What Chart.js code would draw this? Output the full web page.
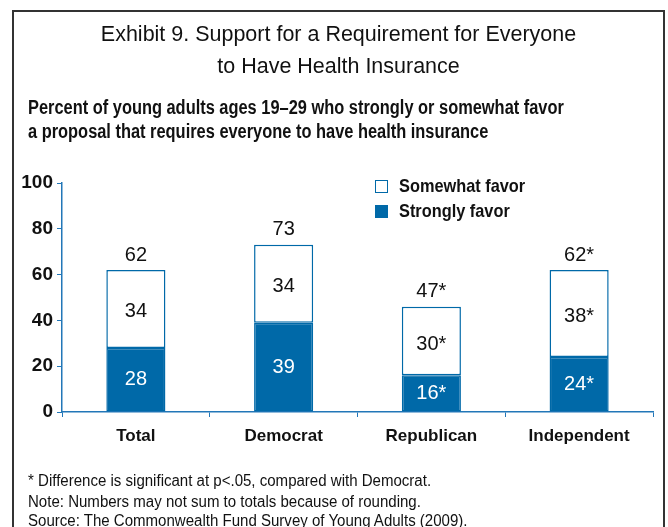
<!DOCTYPE html>
<html>
<head>
<meta charset="utf-8">
<script src="https://cdn.jsdelivr.net/npm/chart.js@4.4.1/dist/chart.umd.min.js"></script>
<style>
  body { margin: 0; width: 668px; height: 527px; position: relative; overflow: hidden; background: #fff;
         font-family: "Liberation Sans", Arial, sans-serif; color: #111; }
  #frame { position: absolute; left: 12px; top: 10px; width: 649px; height: 540px;
           border: 2px solid #333; border-bottom: none; }
  #chart { position: absolute; left: 0; top: 0; }
  .title { position: absolute; left: 12px; width: 653px; text-align: center; font-size: 22.5px; line-height: 32px;
           white-space: nowrap; transform: scaleX(0.955); transform-origin: 327px 0; }
  .sub { position: absolute; left: 28px; font-size: 20px; font-weight: bold; line-height: 24px;
         white-space: nowrap; transform: scaleX(0.82); transform-origin: 0 0; }
  .note { position: absolute; left: 28px; font-size: 16px; line-height: 19px; white-space: nowrap;
          transform: scaleX(0.94); transform-origin: 0 0; }
  .leg { position: absolute; left: 375px; font-size: 19px; font-weight: bold; line-height: 24px; white-space: nowrap; }
  .leg span { display: inline-block; width: 11px; height: 11px; border: 1.5px solid #0069a8;
              margin-right: 11px; vertical-align: -1px; }
  .leg b { display: inline-block; transform: scaleX(0.86); transform-origin: 0 0; font-weight: bold; }
</style>
</head>
<body>
<div id="frame"></div>
<canvas id="chart" width="668" height="527"></canvas>
<div class="title" style="top:18px">Exhibit 9. Support for a Requirement for Everyone</div>
<div class="title" style="top:50px">to Have Health Insurance</div>
<div class="sub" style="top:95px">Percent of young adults ages 19–29 who strongly or somewhat favor</div>
<div class="sub" style="top:119px">a proposal that requires everyone to have health insurance</div>
<div class="leg" style="top:174px"><span style="background:#fff"></span><b>Somewhat favor</b></div>
<div class="leg" style="top:199px"><span style="background:#0069a8"></span><b>Strongly favor</b></div>
<div class="note" style="top:471px">* Difference is significant at p&lt;.05, compared with Democrat.</div>
<div class="note" style="top:492px">Note: Numbers may not sum to totals because of rounding.</div>
<div class="note" style="top:511px">Source: The Commonwealth Fund Survey of Young Adults (2009).</div>

<script>
const categories = ["Total", "Democrat", "Republican", "Independent"];
const stronglyFavor = [28, 39, 16, 24];
const somewhatFavor = [34, 34, 30, 38];
const totals = [62, 73, 47, 62];
const significant = [false, false, true, true];
const yTicks = [0, 20, 40, 60, 80, 100];

const BLUE = "#0069a8";
const AXIS = "#2277b8";
const FONT = "'Liberation Sans', Arial, sans-serif";

const star = (v, i) => significant[i] ? v + "*" : String(v);

// value labels inside and above the stacked bars
const barLabels = {
  id: "barLabels",
  afterDatasetsDraw(chart) {
    const ctx = chart.ctx;
    const strong = chart.getDatasetMeta(0).data;
    const some = chart.getDatasetMeta(1).data;
    ctx.save();
    ctx.font = "20px " + FONT;
    ctx.textAlign = "center";
    ctx.textBaseline = "middle";
    categories.forEach((c, i) => {
      const b0 = strong[i], b1 = some[i];
      ctx.fillStyle = "#fff";
      ctx.fillText(star(stronglyFavor[i], i), b0.x, (b0.y + b0.base) / 2);
      ctx.fillStyle = "#111";
      ctx.fillText(star(somewhatFavor[i], i), b1.x, (b1.y + b1.base) / 2 + 3);
      ctx.fillText(star(totals[i], i), b1.x, b1.y - 15);
    });
    ctx.restore();
  }
};

new Chart(document.getElementById("chart"), {
  type: "bar",
  data: {
    labels: categories,
    datasets: [
      { label: "Strongly favor", data: stronglyFavor, backgroundColor: BLUE, borderColor: BLUE,
        borderWidth: 1.5, borderSkipped: false },
      { label: "Somewhat favor", data: somewhatFavor, backgroundColor: "#fff", borderColor: BLUE,
        borderWidth: 1.5, borderSkipped: false }
    ]
  },
  options: {
    responsive: false,
    animation: false,
    layout: { padding: { left: 0, right: 15, top: 183, bottom: 0 } },
    plugins: { legend: { display: false }, title: { display: false }, tooltip: { enabled: false } },
    datasets: { bar: { categoryPercentage: 1, barPercentage: 0.4 } },
    scales: {
      x: {
        stacked: true,
        afterFit: (s) => { s.height = 115; },
        border: { color: AXIS, width: 1.5 },
        grid: { drawOnChartArea: false, color: AXIS, tickLength: 5, offset: true },
        ticks: { color: "#111", padding: 9, font: { family: FONT, size: 17, weight: "bold" } }
      },
      y: {
        stacked: true,
        min: 0,
        max: 100,
        afterFit: (s) => { s.width = 62; },
        afterBuildTicks: (s) => { s.ticks = yTicks.map(v => ({ value: v })); },
        border: { color: AXIS, width: 1.5 },
        grid: { drawOnChartArea: false, color: AXIS, tickLength: 5 },
        ticks: { color: "#111", padding: 4, font: { family: FONT, size: 19, weight: "bold" } }
      }
    }
  },
  plugins: [barLabels]
});
</script>
</body>
</html>
